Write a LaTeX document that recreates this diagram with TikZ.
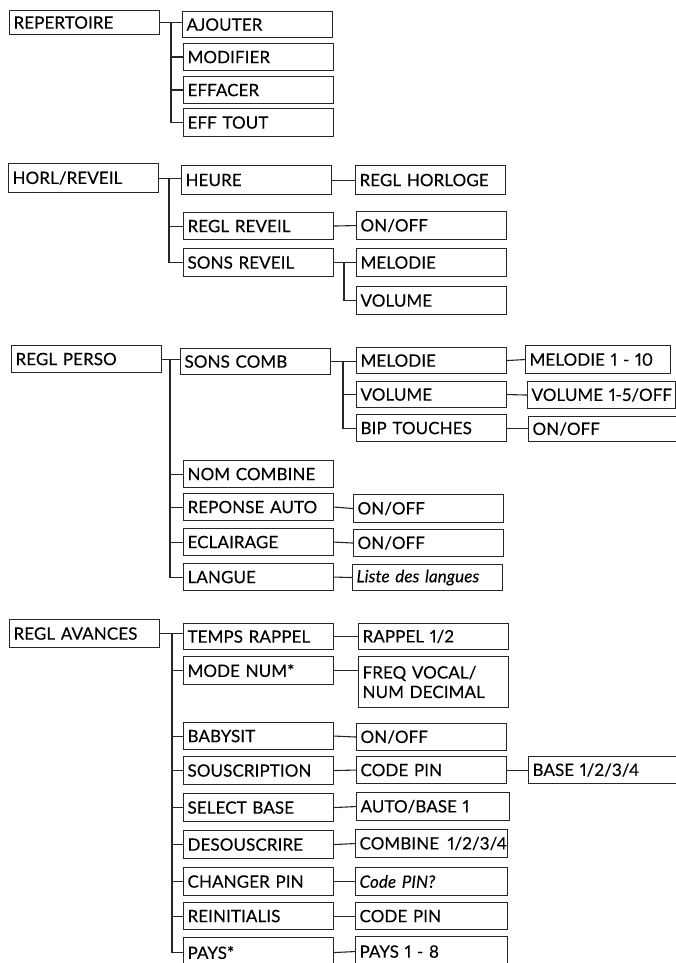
\documentclass[tikz,border=0pt]{standalone}
\usepackage{fontspec}
\setmainfont{Lato}[LetterSpace=0.5, Numbers=Proportional, FakeBold=0.25]
\usetikzlibrary{calc}

\tikzset{
  box/.style={draw=black!85, line width=1.1pt, anchor=north west, text width=142pt,
    inner xsep=4pt, inner ysep=0pt, minimum height=#1pt, align=left},
  box/.default=27,
  link/.style={draw=black!85, line width=1.1pt},
}

\begin{document}
\begin{tikzpicture}[x=1pt, y=-1pt, every node/.style={font=\fontsize{17}{19.5}\selectfont}]
  \useasboundingbox (0,0) rectangle (676,963);

  % REPERTOIRE
  \node[box=24] (rep) at (9,10) {REPERTOIRE};
  \node[box=26] (ajout) at (182,11) {AJOUTER};
  \node[box] (modif) at (183,43) {MODIFIER};
  \node[box] (effac) at (183,76) {EFFACER};
  \node[box=28] (efftout) at (183,108) {EFF TOUT};
  \coordinate (b1) at (171,0);
  \draw[link] (rep.east) -- (rep.east -| ajout.west);
  \draw[link] (b1 |- rep.east) |- (efftout.west);
  \foreach \c in {modif,effac} \draw[link] (b1 |- \c.west) -- (\c.west);

  % HORL/REVEIL
  \node[box=29] (horl) at (8,163) {HORL/REVEIL};
  \node[box=29] (heure) at (181,165) {HEURE};
  \node[box=29] (reglhorl) at (355,165) {REGL HORLOGE};
  \node[box] (reglrev) at (183,212) {REGL REVEIL};
  \node[box=28] (onoffA) at (356,211) {ON/OFF};
  \node[box=28] (sonsrev) at (183,248) {SONS REVEIL};
  \node[box=28] (melA) at (356,248) {MELODIE};
  \node[box=28] (volA) at (356,286) {VOLUME};
  \coordinate (b2) at (169,0);
  \coordinate (b3) at (344,0);
  \draw[link] (horl.east) -- (horl.east -| heure.west);
  \draw[link] (b2 |- horl.east) |- (sonsrev.west);
  \draw[link] (b2 |- reglrev.west) -- (reglrev.west);
  \draw[link] (heure.east) -- (reglhorl.west);
  \draw[link] (reglrev.east) -- (onoffA.west);
  \draw[link] (sonsrev.east) -- (sonsrev.east -| melA.west);
  \draw[link] (b3 |- sonsrev.east) |- (volA.west);

  % REGL PERSO
  \node[box] (perso) at (11,345) {REGL PERSO};
  \node[box=26] (sonscomb) at (180,348) {SONS COMB};
  \node[box=26] (melB) at (356,347) {MELODIE};
  \node[box=26] (volB) at (356,381) {VOLUME};
  \node[box] (bip) at (356,414) {BIP TOUCHES};
  \node[box=28, text width=137pt] (melnum) at (525,345) {MELODIE 1 - 10};
  \node[box, text width=140pt] (volnum) at (527,381) {\mbox{VOLUME 1-5/OFF}};
  \node[box=25] (onoffB) at (528,416) {ON/OFF};
  \node[box] (nomcomb) at (183,460) {NOM COMBINE};
  \node[box] (repauto) at (183,493) {REPONSE AUTO};
  \node[box] (eclair) at (183,528) {ECLAIRAGE};
  \node[box] (langue) at (183,563) {LANGUE};
  \node[box=28] (onoffC) at (353,494) {ON/OFF};
  \node[box] (onoffD) at (353,529) {ON/OFF};
  \node[box=26] (listelang) at (352,564) {\textit{Liste des langues}};
  \coordinate (b4) at (170,0);
  \coordinate (b5) at (343,0);
  \draw[link] (perso.east) -- (perso.east -| sonscomb.west);
  \draw[link] (b4 |- perso.east) |- (langue.west);
  \foreach \c in {nomcomb,repauto,eclair} \draw[link] (b4 |- \c.west) -- (\c.west);
  \draw[link] (sonscomb.east) -- (sonscomb.east -| melB.west);
  \draw[link] (b5 |- sonscomb.east) |- (bip.west);
  \draw[link] (b5 |- volB.west) -- (volB.west);
  \draw[link] (melB.east) -- (melnum.west);
  \draw[link] (volB.east) -- (volnum.west);
  \draw[link] (bip.east) -- (bip.east -| onoffB.west);
  \draw[link] (repauto.east) -- (onoffC.west);
  \draw[link] (eclair.east) -- (onoffD.west);
  \draw[link] (langue.east) -- (listelang.west);

  % REGL AVANCES
  \node[box=28] (avances) at (9,619) {REGL AVANCES};
  \node[box=26] (temps) at (183,623) {TEMPS RAPPEL};
  \node[box=28] (modenum) at (183,656) {MODE NUM*};
  \node[box] (babysit) at (183,722) {BABYSIT};
  \node[box=28] (souscr) at (183,756) {SOUSCRIPTION};
  \node[box=28] (selbase) at (183,793) {SELECT BASE};
  \node[box=28] (desouscr) at (183,830) {DESOUSCRIRE};
  \node[box=28] (chpin) at (183,867) {CHANGER PIN};
  \node[box] (reinit) at (183,902) {REINITIALIS};
  \node[box=30] (pays) at (183,937) {PAYS*};
  \node[box=26] (rappel) at (358,623) {RAPPEL 1/2};
  \node[box=51] (freq) at (358,656) {FREQ VOCAL/\\NUM DECIMAL};
  \node[box] (onoffE) at (356,723) {ON/OFF};
  \node[box] (codepinA) at (356,756) {CODE PIN};
  \node[box] (base) at (528,756) {BASE 1/2/3/4};
  \node[box=28, text width=145pt] (autobase) at (356,792) {AUTO/BASE 1};
  \node[box=28, text width=144pt] (combine) at (355,829) {\mbox{COMBINE\enspace 1/2/3/4}};
  \node[box=28, text width=144pt] (codeq) at (355,867) {\textit{Code PIN?}};
  \node[box, text width=144pt] (codepinB) at (355,902) {CODE PIN};
  \node[box=30, text width=144pt] (paysnum) at (355,936) {PAYS 1 - 8};
  \coordinate (b6) at (172,0);
  \draw[link] (avances.east) -- (avances.east -| temps.west);
  \draw[link] (b6 |- avances.east) |- (pays.west);
  \foreach \c in {modenum,babysit,souscr,selbase,desouscr,chpin,reinit}
    \draw[link] (b6 |- \c.west) -- (\c.west);
  \draw[link] (temps.east) -- (rappel.west);
  \draw[link] (modenum.east) -- (modenum.east -| freq.west);
  \draw[link] (babysit.east) -- (onoffE.west);
  \draw[link] (souscr.east) -- (codepinA.west);
  \draw[link] (codepinA.east) -- (base.west);
  \draw[link] (selbase.east) -- (autobase.west);
  \draw[link] (desouscr.east) -- (combine.west);
  \draw[link] (chpin.east) -- (codeq.west);
  \draw[link] (reinit.east) -- (codepinB.west);
  \draw[link] (pays.east) -- (paysnum.west);
\end{tikzpicture}
\end{document}
